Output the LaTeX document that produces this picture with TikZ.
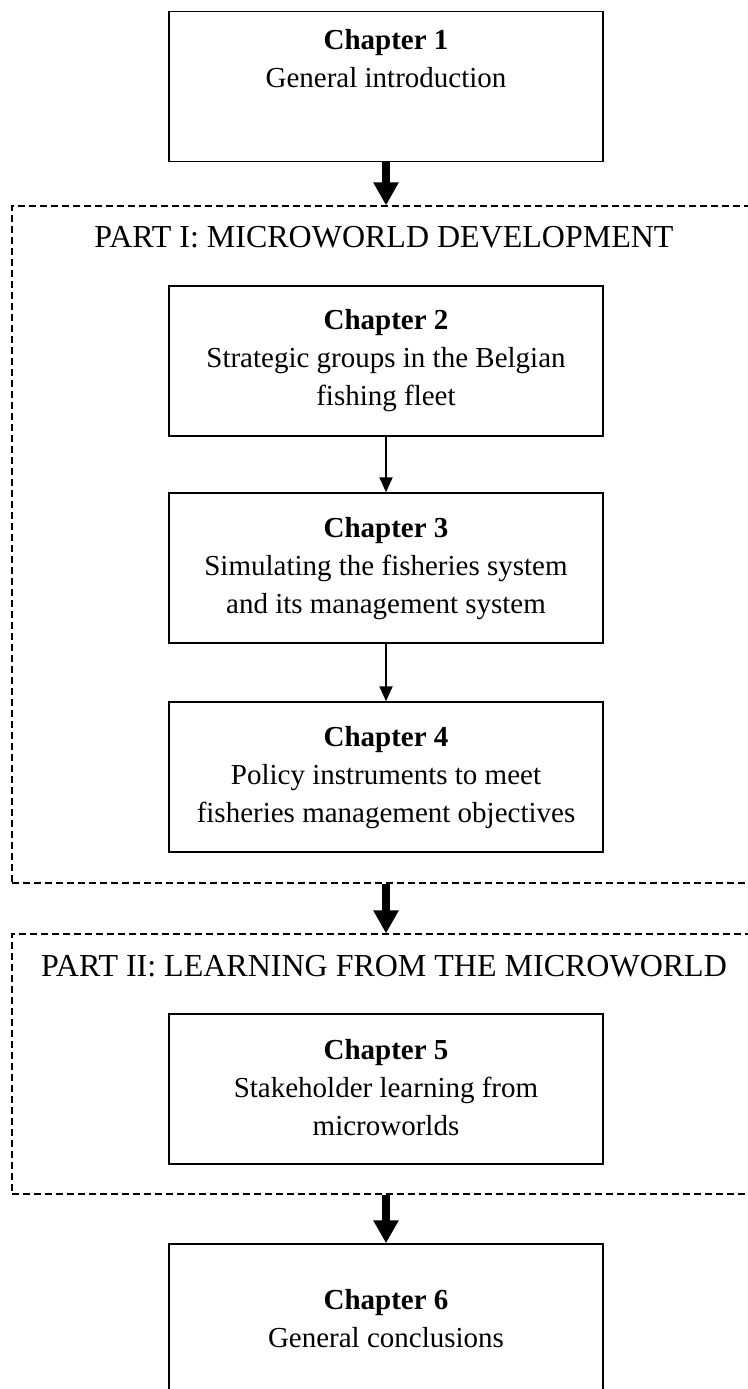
\documentclass[tikz,border=0pt]{standalone}
\usepackage{fontspec}
\setmainfont{Liberation Serif}
\usetikzlibrary{arrows.meta}
\begin{document}
\begin{tikzpicture}[x=0.5pt,y=-0.5pt,
  chapbox/.style={draw, line width=0.75pt, minimum width=217pt, minimum height=75pt, inner sep=0pt},
  chaptext/.style={align=center, font=\fontsize{14.5}{19}\selectfont, anchor=base, inner sep=0pt},
  parttitle/.style={font=\fontsize{16}{19}\selectfont, anchor=base, inner sep=0pt},
  partbox/.style={draw, line width=0.65pt, dash pattern=on 3.3pt off 2.2pt, inner sep=0pt},
  bigarrow/.style={line width=4pt, -{Triangle[width=12pt,length=11.5pt]}},
  smallarrow/.style={line width=1pt, -{Triangle[width=6.5pt,length=7.5pt]}}]
\useasboundingbox (0,0) rectangle (748,1389);
\clip (0,0) rectangle (748,1389);

% dashed part frames (open to the right)
\node[partbox, minimum width=384pt, minimum height=338.5pt] (part1) at (396,544.5) {};
\node[partbox, minimum width=384pt, minimum height=130pt] (part2) at (396,1064) {};
\node[parttitle] (p1title) at (384,247) {PART I: MICROWORLD DEVELOPMENT};
\node[parttitle] (p2title) at (384,976) {PART II: LEARNING FROM THE MICROWORLD};

% chapter boxes
\node[chapbox] (c1) at (386,86.5) {};
\node[chapbox] (c2) at (386,361) {};
\node[chapbox] (c3) at (386,568) {};
\node[chapbox] (c4) at (386,777) {};
\node[chapbox] (c5) at (386,1089) {};
\node[chapbox] (c6) at (386,1319) {};

% chapter texts (placed by the baseline of their last line)
\node[chaptext] (t1) at (386,87) {\textbf{Chapter 1}\\General introduction};
\node[chaptext] (t2) at (386,405) {\textbf{Chapter 2}\\Strategic groups in the Belgian\\fishing fleet};
\node[chaptext] (t3) at (386,613) {\textbf{Chapter 3}\\Simulating the fisheries system\\and its management system};
\node[chaptext] (t4) at (386,822) {\textbf{Chapter 4}\\Policy instruments to meet\\fisheries management objectives};
\node[chaptext] (t5) at (386,1135) {\textbf{Chapter 5}\\Stakeholder learning from\\microworlds};
\node[chaptext] (t6) at (386,1347) {\textbf{Chapter 6}\\General conclusions};

% connectors
\draw[bigarrow] (c1.south) -- (c1.south |- part1.north);
\draw[smallarrow] (c2.south) -- (c3.north);
\draw[smallarrow] (c3.south) -- (c4.north);
\draw[bigarrow] (c4.south |- part1.south) -- (c4.south |- part2.north);
\draw[bigarrow] (c5.south |- part2.south) -- (c6.north);
\end{tikzpicture}
\end{document}
